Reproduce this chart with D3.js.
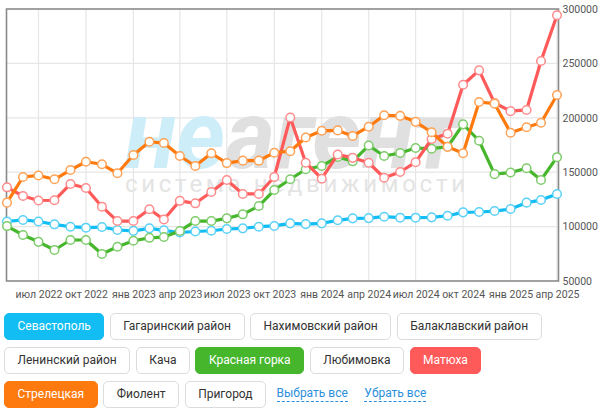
<!DOCTYPE html>
<html>
<head>
<meta charset="utf-8">
<script src="https://cdn.jsdelivr.net/npm/d3@7"></script>
<style>
  body { margin: 0; background: #fff; font-family: Roboto, "Noto Sans", sans-serif; }
  #wrap { position: relative; width: 600px; height: 412px; overflow: hidden; }
  #chart { position: absolute; left: 0; top: 0; }
  #buttons { position: absolute; left: 4px; top: 312.5px; width: 560px; display: flex; flex-wrap: wrap; gap: 6.5px 5.5px; align-items: center; }
  .btn { box-sizing: border-box; height: 27.5px; line-height: 25.5px; padding: 0 12.5px; border: 1px solid #dcdcdc;
         border-radius: 5px; font-size: 12px; color: #333; background: #fff; white-space: nowrap; }
  .btn.on { color: #fff; }
  .link { font-size: 12px; color: #2b8fdc; border-bottom: 1px dashed #2b8fdc; line-height: 15px; margin-left: 5px; margin-right: 6px; }
</style>
</head>
<body>
<div id="wrap">
  <svg id="chart" width="600" height="305"></svg>
  <div id="buttons"></div>
</div>
<script>
// months of the series (first day of each month)
var months = ["2022-05","2022-06","2022-07","2022-08","2022-09","2022-10","2022-11","2022-12",
  "2023-01","2023-02","2023-03","2023-04","2023-05","2023-06","2023-07","2023-08","2023-09","2023-10","2023-11","2023-12",
  "2024-01","2024-02","2024-03","2024-04","2024-05","2024-06","2024-07","2024-08","2024-09","2024-10","2024-11","2024-12",
  "2025-01","2025-02","2025-03","2025-04"];

var sevastopol = [104700,106100,104700,102100,99900,99000,99600,96900,96100,98400,96600,94600,95500,96200,97800,98400,
  99900,100600,103000,102300,103000,105800,107600,107800,109100,108200,108200,108500,110000,113100,113400,114300,
  116200,122000,124400,130000];
var krasnayaGorka = [100500,92300,86000,78500,87700,87700,74800,81500,87000,89700,90400,96000,105100,105100,107600,111300,
  118900,133600,143500,152700,155700,164000,160000,174500,164900,167600,172200,171600,173400,194000,178900,148200,
  149700,153600,142800,163800];
var matyukha = [136100,128100,124000,124200,139200,135500,118300,105100,105100,115900,106500,123700,121400,131800,142800,130000,
  130000,145600,200300,158700,144000,166300,163200,158700,144900,150200,159200,180500,185400,230400,243600,213600,
  206100,207200,252200,294300];
var streletskaya = [122000,145600,147000,143500,152000,159600,157300,149000,165800,178000,176800,164900,155700,167400,158400,160600,
  160600,167900,169300,181900,188100,188400,183300,191800,202300,201800,196300,186700,173300,167400,214500,213000,
  186300,191300,195500,221000];

var yTicks = [50000, 100000, 150000, 200000, 250000, 300000];
var monthNames = ["янв","фев","мар","апр","май","июн","июл","авг","сен","окт","ноя","дек"];

var series = [
  {name: "Севастополь", color: "#12bdf3", values: sevastopol},
  {name: "Красная горка", color: "#46b62c", values: krasnayaGorka},
  {name: "Матюха", color: "#ff5a5a", values: matyukha},
  {name: "Стрелецкая", color: "#ff7a0e", values: streletskaya}
];

var buttons = [
  {name: "Севастополь", color: "#12bdf3"},
  {name: "Гагаринский район"},
  {name: "Нахимовский район"},
  {name: "Балаклавский район"},
  {name: "Ленинский район"},
  {name: "Кача"},
  {name: "Красная горка", color: "#46b62c"},
  {name: "Любимовка"},
  {name: "Матюха", color: "#ff5a5a"},
  {name: "Стрелецкая", color: "#ff7a0e"},
  {name: "Фиолент"},
  {name: "Пригород"}
];

var parse = d3.timeParse("%Y-%m");
var dates = months.map(parse);

// plot box (not called top/left: window.top is read-only)
var plotL = 6.5, plotR = 558.5, plotT = 9, plotB = 281;
var svg = d3.select("#chart");

var x = d3.scaleTime()
  .domain(d3.extent(dates))
  .range([7, 557]);
var y = d3.scaleLinear()
  .domain([50000, 300000])
  .range([plotB, plotT]);

var xTicks = dates.filter(d => d.getMonth() % 3 == 0 && d > dates[0]);

// grid
svg.append("g")
  .selectAll("line")
  .data(xTicks)
  .enter().append("line")
  .attr("x1", d => x(d)).attr("x2", d => x(d))
  .attr("y1", plotT).attr("y2", plotB)
  .attr("stroke", "#e6e6e6").attr("stroke-width", 1.2);
svg.append("g")
  .selectAll("line")
  .data(yTicks.slice(1, -1))
  .enter().append("line")
  .attr("x1", plotL).attr("x2", plotR)
  .attr("y1", d => y(d)).attr("y2", d => y(d))
  .attr("stroke", "#e6e6e6").attr("stroke-width", 1.2);

// watermark
var wm = svg.append("g").attr("font-family", "Roboto, sans-serif").attr("font-style", "italic");
wm.append("text")
  .attr("x", 125).attr("y", 168)
  .attr("font-size", 96).attr("font-weight", 700)
  .attr("textLength", 100).attr("lengthAdjust", "spacingAndGlyphs")
  .attr("fill", "#cdedf9")
  .text("не");
wm.append("text")
  .attr("x", 226).attr("y", 168)
  .attr("font-size", 96).attr("font-weight", 700)
  .attr("textLength", 234).attr("lengthAdjust", "spacingAndGlyphs")
  .attr("fill", "#e0e0e0")
  .text("агент");
wm.append("text")
  .attr("x", 125).attr("y", 192)
  .attr("font-size", 24).attr("font-style", "normal")
  .attr("textLength", 340).attr("lengthAdjust", "spacing")
  .attr("fill", "#e4e4e4")
  .text("система недвижимости");

// frame
svg.append("rect")
  .attr("x", plotL).attr("y", plotT)
  .attr("width", plotR - plotL).attr("height", plotB - plotT)
  .attr("fill", "none").attr("stroke", "#8a8a8a").attr("stroke-width", 1.6);

// axes
var xAxis = d3.axisBottom(x)
  .tickValues(xTicks)
  .tickSize(0)
  .tickPadding(10)
  .tickFormat(d => monthNames[d.getMonth()] + " " + d.getFullYear());
var gx = svg.append("g").attr("transform", "translate(0," + plotB + ")").call(xAxis);
gx.select(".domain").remove();
gx.selectAll("text").attr("font-size", 10.5).attr("font-family", "Roboto, sans-serif").attr("fill", "#555");

var yAxis = d3.axisRight(y)
  .tickValues(yTicks)
  .tickSize(0)
  .tickPadding(4)
  .tickFormat(d3.format("d"));
var gy = svg.append("g").attr("transform", "translate(" + plotR + ",0)").call(yAxis);
gy.select(".domain").remove();
gy.selectAll("text").attr("font-size", 10.5).attr("font-family", "Roboto, sans-serif").attr("fill", "#555");

// lines and points
var line = d3.line()
  .x((d, i) => x(dates[i]))
  .y(d => y(d));

series.forEach(s => {
  var g = svg.append("g");
  g.append("path")
    .attr("d", line(s.values))
    .attr("fill", "none")
    .attr("stroke", s.color)
    .attr("stroke-width", 3.2)
    .attr("stroke-linejoin", "round");
  g.selectAll("circle")
    .data(s.values)
    .enter().append("circle")
    .attr("cx", (d, i) => x(dates[i]))
    .attr("cy", d => y(d))
    .attr("r", 4.3)
    .attr("fill", "#fff")
    .attr("stroke", d3.interpolateRgb(s.color, "#fff")(0.3))
    .attr("stroke-width", 1.5);
});

// district buttons
var bar = d3.select("#buttons");
buttons.forEach(b => {
  var el = bar.append("div").attr("class", "btn").text(b.name);
  if (b.color) {
    el.classed("on", true)
      .style("background", b.color)
      .style("border-color", b.color);
  }
});
bar.append("span").attr("class", "link").text("Выбрать все");
bar.append("span").attr("class", "link").text("Убрать все");
</script>
</body>
</html>
